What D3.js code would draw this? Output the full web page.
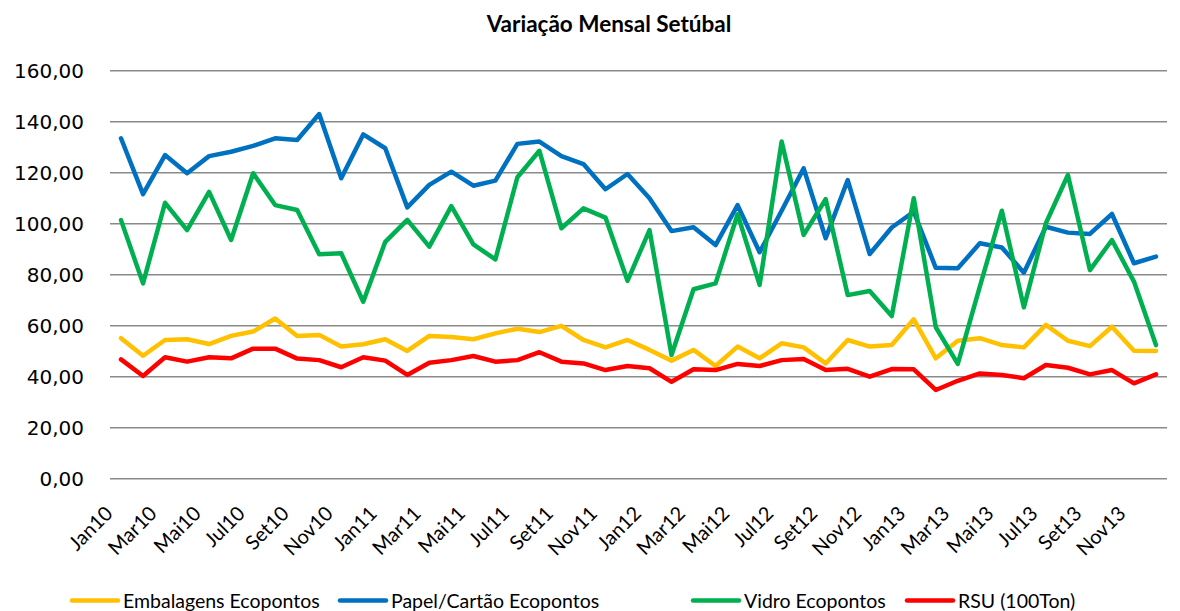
<!DOCTYPE html>
<html>
<head>
<meta charset="utf-8">
<script src="https://cdn.jsdelivr.net/npm/d3@7"></script>
<style>
  body { margin: 0; background: #fff; }
  svg { display: block; }
</style>
</head>
<body>
<script>
// months Jan10 .. Dez13
const monthNames = ["Jan", "Fev", "Mar", "Abr", "Mai", "Jun", "Jul", "Ago", "Set", "Out", "Nov", "Dez"];
const years = ["10", "11", "12", "13"];
const months = [];
years.forEach(y => monthNames.forEach(m => months.push(m + y)));

const yTicks = [0, 20, 40, 60, 80, 100, 120, 140, 160];

// series values
const embalagens = [55.1, 48.2, 54.4, 54.7, 52.8, 56.0, 57.7, 62.8, 56.0, 56.4, 51.8, 52.7,
  54.7, 50.1, 56.0, 55.6, 54.7, 57.0, 58.8, 57.5, 59.9, 54.4, 51.5, 54.4,
  50.5, 46.3, 50.5, 44.2, 51.8, 47.2, 53.1, 51.5, 45.2, 54.4, 51.8, 52.4,
  62.5, 47.2, 54.1, 55.1, 52.4, 51.5, 60.3, 54.1, 52.0, 59.6, 50.2, 50.1];

const papel = [133.5, 111.6, 126.9, 119.8, 126.5, 128.2, 130.5, 133.5, 132.8, 143.0, 117.8, 135.0,
  129.6, 106.4, 115.2, 120.4, 114.9, 116.9, 131.3, 132.2, 126.5, 123.4, 113.5, 119.5,
  110.0, 97.1, 98.6, 91.6, 107.3, 88.8, 105.1, 121.7, 94.3, 117.1, 88.1, 98.5,
  104.7, 82.7, 82.5, 92.3, 90.7, 80.8, 98.8, 96.5, 96.0, 103.8, 84.5, 87.1];

const vidro = [101.4, 76.6, 108.2, 97.5, 112.5, 93.6, 119.8, 107.3, 105.4, 88.0, 88.4, 69.4,
  92.9, 101.5, 91.0, 106.9, 91.9, 86.0, 118.2, 128.6, 98.2, 106.0, 102.4, 77.6,
  97.5, 48.5, 74.3, 76.6, 103.7, 76.0, 132.2, 95.6, 109.6, 72.0, 73.6, 63.8,
  110.0, 59.4, 45.0, 75.3, 105.1, 67.2, 100.2, 119.1, 81.8, 93.6, 77.3, 52.4];

const rsu = [46.8, 40.3, 47.6, 45.9, 47.6, 47.2, 51.0, 51.0, 47.1, 46.5, 43.7, 47.6,
  46.3, 40.7, 45.5, 46.5, 48.1, 45.9, 46.5, 49.6, 45.9, 45.2, 42.6, 44.2,
  43.3, 38.0, 42.9, 42.6, 45.0, 44.2, 46.5, 46.9, 42.6, 43.1, 40.0, 43.0,
  42.9, 34.8, 38.4, 41.3, 40.7, 39.4, 44.6, 43.5, 40.9, 42.6, 37.4, 40.9];

const seriesNames = ["Embalagens Ecopontos", "Papel/Cartão Ecopontos", "Vidro Ecopontos", "RSU (100Ton)"];
const seriesColors = ["#FFC000", "#0070C0", "#00B050", "#FF0000"];
const seriesValues = [embalagens, papel, vidro, rsu];

// chart size
const width = 1180;
const height = 611;
const plotLeft = 110;
const plotRight = 1167;
const plotTop = 70.7;
const plotBottom = 478.7;

const svg = d3.select("body")
    .append("svg")
    .attr("width", width)
    .attr("height", height);

// scales
const xScale = d3.scaleBand()
    .domain(months)
    .range([plotLeft, plotRight]);

const yScale = d3.scaleLinear()
    .domain([0, 160])
    .range([plotBottom, plotTop]);

const xc = m => xScale(m) + xScale.bandwidth() / 2;

// title
svg.append("text")
    .attr("x", 609)
    .attr("y", 32)
    .attr("text-anchor", "middle")
    .style("font-family", "Lato, sans-serif")
    .style("font-weight", "bold")
    .style("font-size", "22.5px")
    .text("Variação Mensal Setúbal");

// gridlines
svg.append("g")
    .selectAll("line")
    .data(yTicks)
    .enter()
    .append("line")
    .attr("x1", plotLeft)
    .attr("x2", plotRight)
    .attr("y1", d => yScale(d))
    .attr("y2", d => yScale(d))
    .attr("stroke", "#8a8a8a")
    .attr("stroke-width", 1.4);

// left axis (labels only)
const leftAxis = d3.axisLeft(yScale)
    .tickValues(yTicks)
    .tickSize(0)
    .tickPadding(26)
    .tickFormat(d => d3.format(".2f")(d).replace(".", ","));

const gy = svg.append("g")
    .attr("transform", "translate(" + plotLeft + ",0)")
    .call(leftAxis);
gy.select(".domain").remove();
gy.selectAll("text")
    .style("font-family", "'DejaVu Sans', sans-serif")
    .style("font-size", "20px")
    .attr("fill", "#000");

// bottom axis labels, every second month
const bottomAxis = d3.axisBottom(xScale)
    .tickValues(months.filter((d, i) => i % 2 === 0))
    .tickSize(0);

const gx = svg.append("g")
    .attr("transform", "translate(0," + plotBottom + ")")
    .call(bottomAxis);
gx.select(".domain").remove();
gx.selectAll("text")
    .style("font-family", "Lato, sans-serif")
    .style("font-size", "20px")
    .attr("fill", "#000")
    .attr("text-anchor", "end")
    .attr("y", 0)
    .attr("dy", 0)
    .attr("transform", "translate(-7,36) rotate(-45)");

// lines
const line = d3.line()
    .x((d, i) => xc(months[i]))
    .y(d => yScale(d));

seriesValues.forEach((vals, k) => {
    svg.append("path")
        .datum(vals)
        .attr("d", line)
        .attr("fill", "none")
        .attr("stroke", seriesColors[k])
        .attr("stroke-width", 4.5)
        .attr("stroke-linejoin", "round")
        .attr("stroke-linecap", "round");
});

// legend
const legendX = [72, 340, 693, 907];
const legend = svg.append("g");
seriesNames.forEach((name, k) => {
    legend.append("line")
        .attr("x1", legendX[k])
        .attr("x2", legendX[k] + 46)
        .attr("y1", 600.5)
        .attr("y2", 600.5)
        .attr("stroke", seriesColors[k])
        .attr("stroke-width", 4.5)
        .attr("stroke-linecap", "round");
    legend.append("text")
        .attr("x", legendX[k] + 51)
        .attr("y", 608)
        .style("font-family", "Lato, sans-serif")
        .style("font-size", "19.5px")
        .attr("fill", "#000")
        .text(name);
});
</script>
</body>
</html>
